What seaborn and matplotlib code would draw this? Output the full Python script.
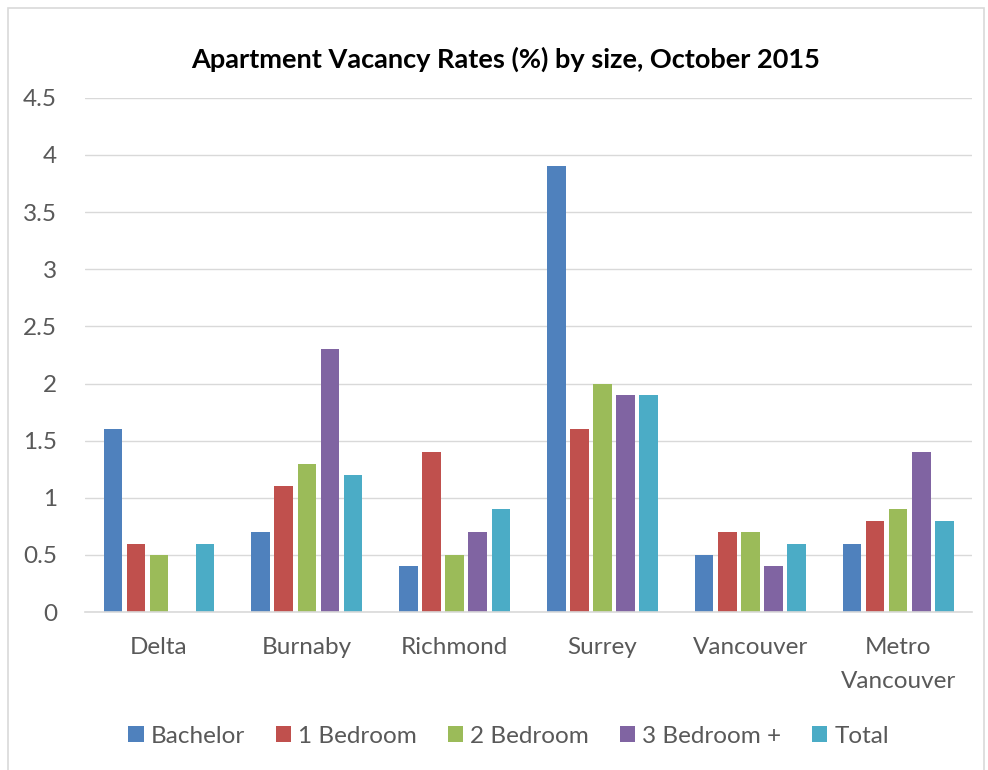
import numpy as np
import pandas as pd
import seaborn as sns
import matplotlib.pyplot as plt
from matplotlib.patches import Rectangle

# 数据
regions = ['Delta', 'Burnaby', 'Richmond', 'Surrey', 'Vancouver', 'Metro\nVancouver']
sizes = ['Bachelor', '1 Bedroom', '2 Bedroom', '3 Bedroom +', 'Total']
bachelor = [1.6, 0.7, 0.4, 3.9, 0.5, 0.6]
one_bed = [0.6, 1.1, 1.4, 1.6, 0.7, 0.8]
two_bed = [0.5, 1.3, 0.5, 2.0, 0.7, 0.9]
three_bed = [np.nan, 2.3, 0.7, 1.9, 0.4, 1.4]
total = [0.6, 1.2, 0.9, 1.9, 0.6, 0.8]
colors = ['#4F81BD', '#C0504D', '#9BBB59', '#8064A2', '#4BACC6']

rows = []
for size, vals in zip(sizes, [bachelor, one_bed, two_bed, three_bed, total]):
    for region, v in zip(regions, vals):
        rows.append({'Region': region, 'Size': size, 'Rate': v})
df = pd.DataFrame(rows)

sns.set_style('white')
plt.rcParams['font.family'] = ['Lato', 'DejaVu Sans']

fig = plt.figure(figsize=(9.88, 7.7), dpi=100)
ax = fig.add_axes([0.086, 0.205, 0.898, 0.668])

sns.barplot(data=df, x='Region', y='Rate', hue='Size', order=regions, hue_order=sizes,
            palette=colors, width=0.78, gap=0.2, saturation=1, errorbar=None, ax=ax,
            edgecolor='none')

ax.set_ylim(0, 4.5)
ax.set_yticks(np.arange(0, 4.51, 0.5))
ax.set_yticklabels(['0', '0.5', '1', '1.5', '2', '2.5', '3', '3.5', '4', '4.5'])
ax.yaxis.grid(True, color='#D9D9D9', linewidth=1)
ax.set_axisbelow(True)
for s in ['top', 'right', 'left']:
    ax.spines[s].set_visible(False)
ax.spines['bottom'].set_color('#D9D9D9')
ax.spines['bottom'].set_linewidth(1.2)
ax.tick_params(axis='both', length=0, labelsize=17.5, labelcolor='#595959')
ax.tick_params(axis='x', pad=18)
ax.tick_params(axis='y', pad=20)
for lbl in ax.get_xticklabels():
    lbl.set_linespacing(1.75)
ax.set_xlabel('')
ax.set_ylabel('')

fig.suptitle('Apartment Vacancy Rates (%) by size, October 2015', x=0.512, y=0.939,
             fontsize=19.5, fontweight='bold', color='black')

ax.legend(loc='center', bbox_to_anchor=(0.515, 0.044), bbox_transform=fig.transFigure,
          ncol=5, frameon=False, fontsize=17.5, labelcolor='#595959',
          handlelength=0.62, handleheight=0.62, handletextpad=0.3, columnspacing=1.27)

# 图表外框
fig.patches.append(Rectangle((0.008, -0.01), 0.988, 1.0, transform=fig.transFigure,
                             fill=False, edgecolor='#D9D9D9', linewidth=1.2))

plt.savefig('out.png', dpi=100)
